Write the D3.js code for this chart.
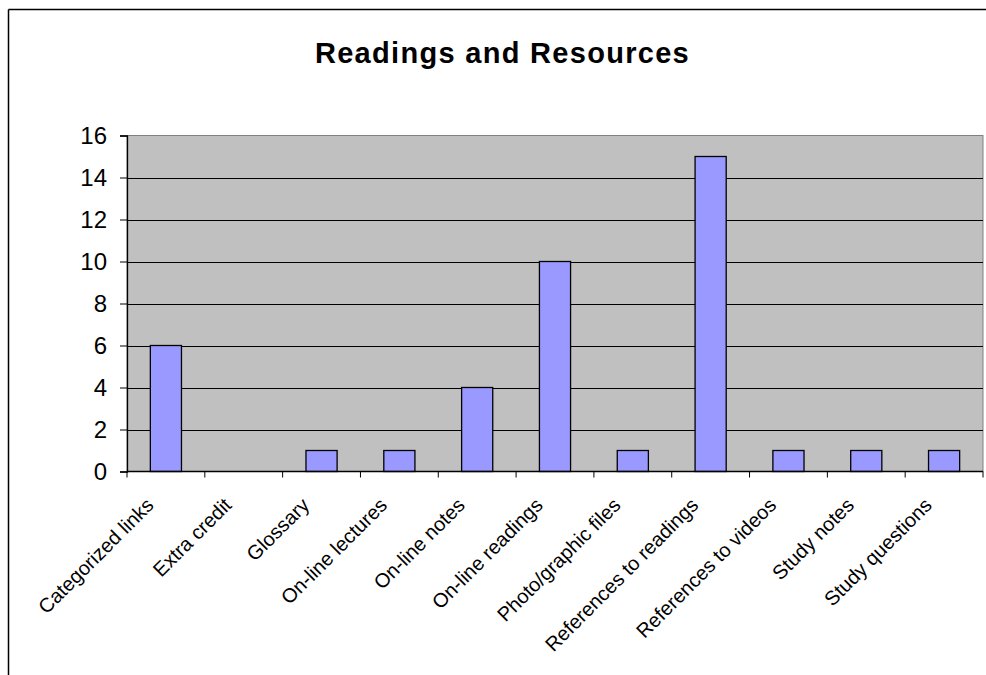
<!DOCTYPE html>
<html>
<head>
<meta charset="utf-8">
<script src="https://cdn.jsdelivr.net/npm/d3@7"></script>
<style>
  body { margin: 0; background: #fff; }
  svg { display: block; font-family: Arial, "Liberation Sans", sans-serif; }
</style>
</head>
<body>
<div id="chart"></div>
<script>
// data
var categories = ["Categorized links", "Extra credit", "Glossary", "On-line lectures", "On-line notes",
  "On-line readings", "Photo/graphic files", "References to readings", "References to videos",
  "Study notes", "Study questions"];
var counts = [6, 0, 1, 1, 4, 10, 1, 15, 1, 1, 1];
var yTicks = [0, 2, 4, 6, 8, 10, 12, 14, 16];

var width = 986, height = 675;
var plot = {left: 127, right: 983, top: 135.5, bottom: 471.5};

var svg = d3.select("#chart").append("svg")
  .attr("width", width)
  .attr("height", height);

// chart frame (only top and left edges are visible)
svg.append("line").attr("x1", 8.5).attr("x2", width).attr("y1", 9.5).attr("y2", 9.5)
  .attr("stroke", "#000").attr("stroke-width", 1.5);
svg.append("line").attr("x1", 8.5).attr("x2", 8.5).attr("y1", 9.5).attr("y2", height)
  .attr("stroke", "#000").attr("stroke-width", 1.5);

svg.append("text")
  .attr("x", 502.5).attr("y", 63)
  .attr("text-anchor", "middle")
  .style("font-size", "29px").style("font-weight", "bold").style("letter-spacing", "1.3px")
  .text("Readings and Resources");

var x = d3.scaleBand().domain(categories).range([plot.left, plot.right]).paddingInner(0).paddingOuter(0);
var y = d3.scaleLinear().domain([0, 16]).range([plot.bottom, plot.top]);

var rows = categories.map(function(c, i) { return {name: c, value: counts[i]}; });

// plot area
svg.append("rect")
  .attr("x", plot.left).attr("y", plot.top)
  .attr("width", plot.right - plot.left).attr("height", plot.bottom - plot.top)
  .attr("fill", "#c0c0c0").attr("stroke", "#808080").attr("stroke-width", 1);

// gridlines
svg.append("g").selectAll("line")
  .data(yTicks.filter(function(d) { return d > 0 && d < 16; }))
  .enter().append("line")
    .attr("x1", plot.left).attr("x2", plot.right)
    .attr("y1", function(d) { return Math.round(y(d)) + 0.5; })
    .attr("y2", function(d) { return Math.round(y(d)) + 0.5; })
    .attr("stroke", "#000").attr("stroke-width", 1);

// bars (gap width 150%)
var bw = x.bandwidth() * 0.4;
svg.append("g").selectAll("rect")
  .data(rows.filter(function(d) { return d.value > 0; }))
  .enter().append("rect")
    .attr("x", function(d) { return x(d.name) + (x.bandwidth() - bw) / 2; })
    .attr("y", function(d) { return y(d.value); })
    .attr("width", bw)
    .attr("height", function(d) { return y(0) - y(d.value); })
    .attr("fill", "#9999ff").attr("stroke", "#000").attr("stroke-width", 1.3);

// y axis
var yAxis = d3.axisLeft(y).tickValues(yTicks).tickSize(7).tickPadding(13).tickFormat(d3.format("d"));
var gy = svg.append("g").attr("transform", "translate(" + plot.left + ",0)").call(yAxis);
gy.select(".domain").attr("stroke", "#000").attr("stroke-width", 1.3);
gy.selectAll(".tick line").attr("stroke", "#000");
gy.selectAll(".tick text").style("font-size", "24px").style("font-family", "Arial, 'Liberation Sans', sans-serif").attr("fill", "#000");

// x axis: ticks at category boundaries
var gx = svg.append("g").attr("transform", "translate(0," + plot.bottom + ")");
gx.append("line").attr("x1", plot.left).attr("x2", plot.right).attr("stroke", "#000").attr("stroke-width", 1.3);
gx.selectAll(".xt")
  .data(categories.concat(["end"]))
  .enter().append("line")
    .attr("class", "xt")
    .attr("x1", function(d, i) { return plot.left + i * x.step(); })
    .attr("x2", function(d, i) { return plot.left + i * x.step(); })
    .attr("y1", 0).attr("y2", 6)
    .attr("stroke", "#000");

gx.selectAll(".xl")
  .data(categories)
  .enter().append("text")
    .attr("class", "xl")
    .attr("text-anchor", "end")
    .attr("transform", function(d) {
      return "translate(" + (x(d) + x.bandwidth() / 2 - 11) + ",35) rotate(-45)";
    })
    .style("font-size", "20px")
    .text(function(d) { return d; });
</script>
</body>
</html>
